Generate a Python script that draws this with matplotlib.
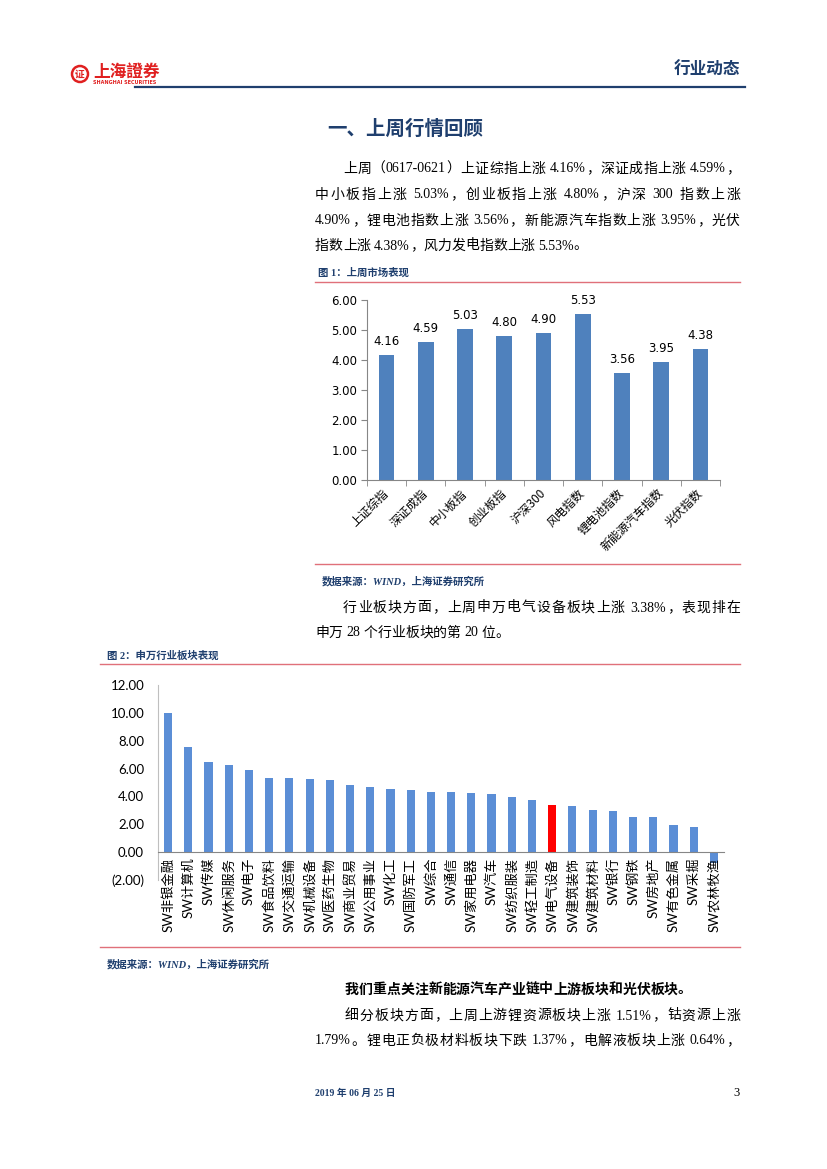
import re
import numpy as np
import matplotlib
matplotlib.use('Agg')
import matplotlib.pyplot as plt
from matplotlib.patches import Circle

CJK = 'Noto Sans CJK SC'
SERIF = ['Liberation Serif', CJK]
NAVY = '#1F3F6E'
PINK = '#E0707A'

# 图1：上周市场表现
idx_names = ['上证综指', '深证成指', '中小板指', '创业板指', '沪深300',
             '风电指数', '锂电池指数', '新能源汽车指数', '光伏指数']
idx_values = [4.16, 4.59, 5.03, 4.80, 4.90, 5.53, 3.56, 3.95, 4.38]

# 图2：申万行业板块表现
sw_names = ['SW非银金融', 'SW计算机', 'SW传媒', 'SW休闲服务', 'SW电子', 'SW食品饮料',
            'SW交通运输', 'SW机械设备', 'SW医药生物', 'SW商业贸易', 'SW公用事业', 'SW化工',
            'SW国防军工', 'SW综合', 'SW通信', 'SW家用电器', 'SW汽车', 'SW纺织服装',
            'SW轻工制造', 'SW电气设备', 'SW建筑装饰', 'SW建筑材料', 'SW银行', 'SW钢铁',
            'SW房地产', 'SW有色金属', 'SW采掘', 'SW农林牧渔']
sw_values = [10.00, 7.52, 6.50, 6.28, 5.93, 5.35, 5.30, 5.22, 5.15, 4.80, 4.68, 4.53,
             4.45, 4.30, 4.30, 4.25, 4.15, 3.93, 3.73, 3.38, 3.28, 3.04, 2.97, 2.50,
             2.50, 1.96, 1.84, -0.78]
sw_highlight = 'SW电气设备'

fig = plt.figure(figsize=(8.27, 11.69), dpi=100)
page = fig.add_axes([0, 0, 1, 1])
page.set_xlim(0, 827)
page.set_ylim(1169, 0)
page.axis('off')
renderer = fig.canvas.get_renderer()


# 两端对齐的一行正文
def line(s, x0, y, x1=None, size=10, weight='normal'):
    tokens = re.findall(r'[A-Za-z0-9.%\-]+| |.', s)
    arts, widths = [], []
    for tk in tokens:
        if tk == ' ':
            arts.append(None)
            widths.append(size * 0.25 * 100 / 72)
            continue
        t = page.text(0, y, tk, fontsize=size, family=SERIF, va='center', ha='left',
                      fontweight=weight)
        arts.append(t)
        widths.append(t.get_window_extent(renderer).width)
    gap = (x1 - x0 - sum(widths)) / (len(tokens) - 1) if x1 else 0
    x = x0
    for t, w in zip(arts, widths):
        if t is not None:
            t.set_x(x)
        x += w + gap


# 页眉
page.add_patch(Circle((80, 74), 8, fill=False, ec='#E02020', lw=1.8))
page.text(80, 74.5, '证', color='#E02020', fontsize=7, ha='center', va='center',
          family=CJK, fontweight='bold')
page.text(93, 72, '上海證券', color='#E02020', fontsize=12, family=CJK,
          fontweight='bold', va='center')
page.text(93, 83, 'SHANGHAI SECURITIES', color='#E02020', fontsize=3.5, va='center',
          fontweight='bold')
page.plot([135, 745], [87, 87], color=NAVY, lw=1.6)
page.text(740, 70, '行业动态', color=NAVY, fontsize=12, fontweight='bold',
          family=CJK, ha='right', va='center')

# 标题与第一段
page.text(327, 129, '一、上周行情回顾', color=NAVY, fontsize=14, fontweight='bold',
          family=CJK, va='center')
line('上周（0617-0621）上证综指上涨 4.16%，深证成指上涨 4.59%，', 343, 169, 740)
line('中小板指上涨 5.03%，创业板指上涨 4.80%，沪深 300 指数上涨', 315, 195, 740)
line('4.90%，锂电池指数上涨 3.56%，新能源汽车指数上涨 3.95%，光伏', 315, 221, 740)
line('指数上涨 4.38%，风力发电指数上涨 5.53%。', 315, 246)

# 图1
page.text(318, 273, '图 1：上周市场表现', color=NAVY, fontsize=7.5,
          fontweight='bold', family=SERIF, va='center')
page.plot([315, 740], [281.5, 281.5], color=PINK, lw=1)

ax1 = fig.add_axes([367 / 827, 1 - 480 / 1169, 353 / 827, 180 / 1169])
x1 = np.arange(len(idx_names))
bars = ax1.bar(x1, idx_values, width=0.4, color='#4F81BD')
ax1.set_xlim(-0.5, len(idx_names) - 0.5)
ax1.set_ylim(0, 6)
yt1 = np.arange(0, 6.01, 1)
ax1.set_yticks(yt1, labels=[f'{v:.2f}' for v in yt1])
for s in ['top', 'right']:
    ax1.spines[s].set_visible(False)
ax1.spines['left'].set_color('#868686')
ax1.spines['bottom'].set_color('#868686')
ax1.tick_params(axis='y', length=4, color='#868686', labelsize=8.5, pad=3)
ax1.set_xticks(x1)
ax1.set_xticklabels(idx_names, rotation=45, ha='right', va='center',
                    rotation_mode='anchor', family=CJK, fontsize=8.5)
ax1.set_xticks(np.arange(-0.5, len(idx_names)), minor=True)
ax1.tick_params(axis='x', which='major', length=0, pad=8)
ax1.tick_params(axis='x', which='minor', length=4, color='#868686')
for b, v in zip(bars, idx_values):
    ax1.annotate(f'{v:.2f}', (b.get_x() + b.get_width() / 2, v), xytext=(0, 5),
                 textcoords='offset points', ha='center', va='bottom', fontsize=8.5)

page.plot([315, 740], [564, 564], color=PINK, lw=1)
page.text(322, 581, '数据来源：WIND，上海证券研究所', color=NAVY, fontsize=7.5,
          fontweight='bold', style='italic', family=SERIF, va='center')

line('行业板块方面，上周申万电气设备板块上涨 3.38%，表现排在', 343, 608, 740)
line('申万 28 个行业板块的第 20 位。', 315, 633)

# 图2
page.text(107, 656, '图 2：申万行业板块表现', color=NAVY, fontsize=7.5,
          fontweight='bold', family=SERIF, va='center')
page.plot([100, 740], [664, 664], color=PINK, lw=1)

ax2 = fig.add_axes([158 / 827, 1 - 880 / 1169, 566 / 827, 195 / 1169])
x2 = np.arange(len(sw_names))
colors = ['#FF0000' if n == sw_highlight else '#5B8ED6' for n in sw_names]
ax2.bar(x2, sw_values, width=0.4, color=colors)
ax2.set_xlim(-0.5, len(sw_names) - 0.5)
ax2.set_ylim(-2, 12)
yt2 = np.arange(-2, 12.01, 2)
ax2.set_yticks(yt2, labels=[f'({abs(v):.2f})' if v < 0 else f'{v:.2f}' for v in yt2],
               family='Lato', fontsize=9.5)
for s in ['top', 'right']:
    ax2.spines[s].set_visible(False)
ax2.spines['bottom'].set_position(('data', 0))
ax2.spines['bottom'].set_color('#868686')
ax2.spines['left'].set_color('#BFBFBF')
ax2.set_xticks(x2)
ax2.set_xticklabels(sw_names, rotation=90, family=['Lato', CJK], fontsize=9.5)
ax2.tick_params(axis='x', length=0, pad=4)
ax2.tick_params(axis='y', length=0, pad=10)

page.plot([100, 740], [947, 947], color=PINK, lw=1)
page.text(107, 964, '数据来源：WIND，上海证券研究所', color=NAVY, fontsize=7.5,
          fontweight='bold', style='italic', family=SERIF, va='center')

# 第三段
line('我们重点关注新能源汽车产业链中上游板块和光伏板块。', 345, 990, weight='bold')
line('细分板块方面，上周上游锂资源板块上涨 1.51%，钴资源上涨', 345, 1016, 740)
line('1.79%。锂电正负极材料板块下跌 1.37%，电解液板块上涨 0.64%，', 315, 1041, 740)

# 页脚
page.text(315, 1093, '2019 年 06 月 25 日', color=NAVY, fontsize=7, fontweight='bold',
          family=SERIF, va='center')
page.text(740, 1093, '3', fontsize=9, family=SERIF, ha='right', va='center')

fig.savefig('out.png', dpi=100)
